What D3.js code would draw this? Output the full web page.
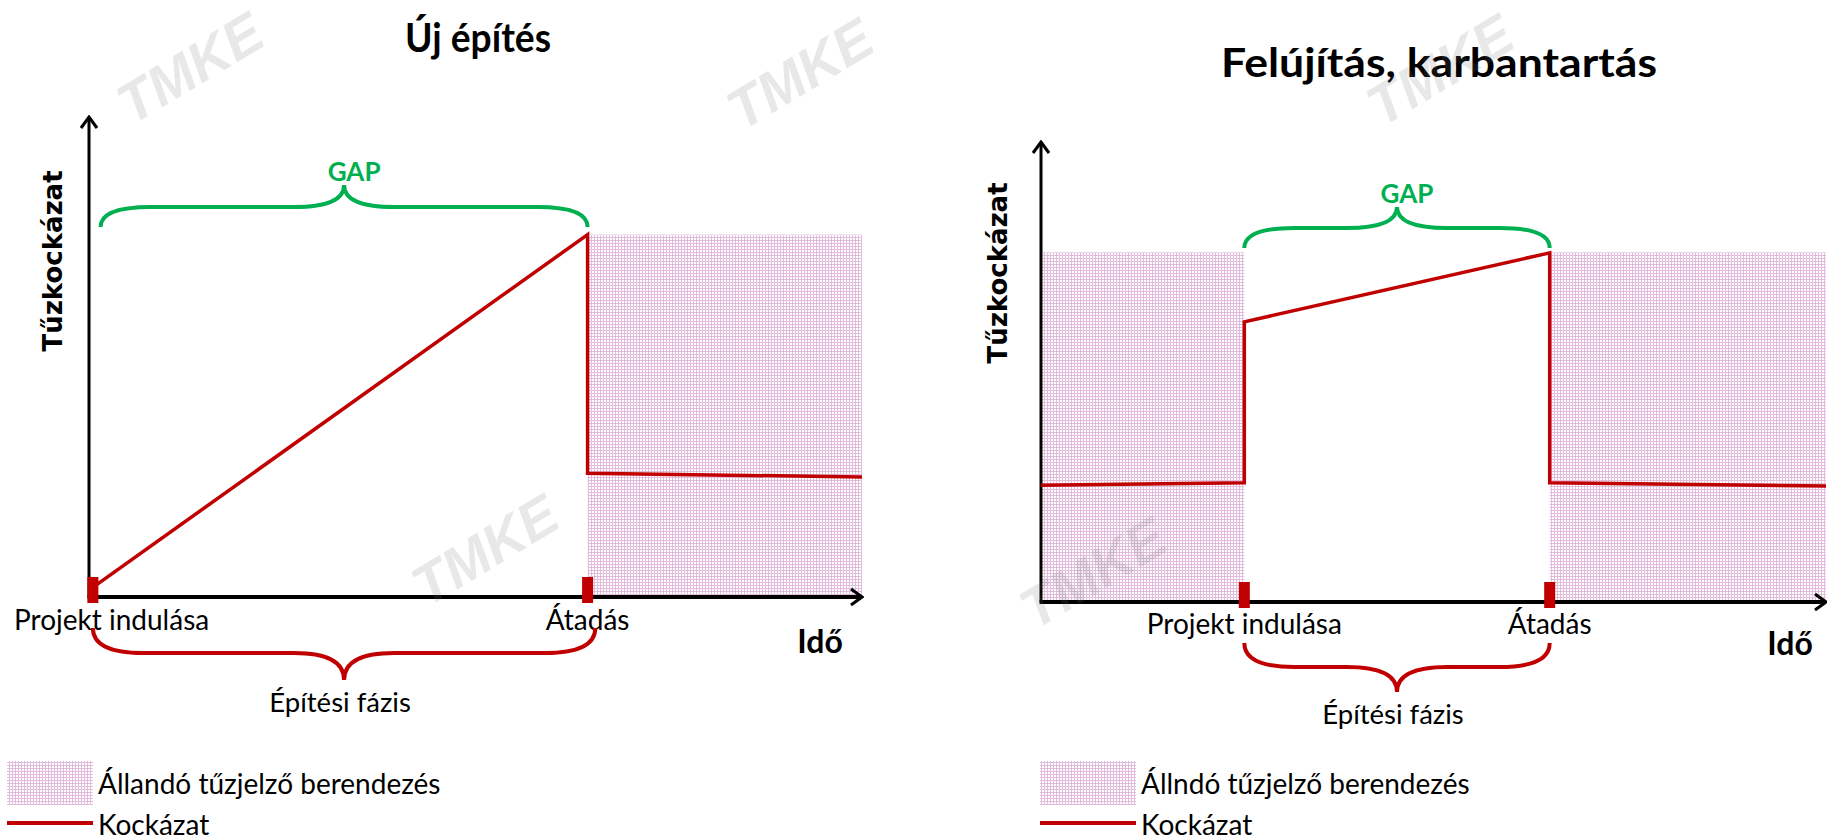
<!DOCTYPE html>
<html>
<head>
<meta charset="utf-8">
<script src="https://cdn.jsdelivr.net/npm/d3@7"></script>
<style>
  body { margin: 0; background: #fff; }
  svg { display: block; }
</style>
</head>
<body>
<div id="chart"></div>
<script>
// --- Új építés (new construction) ---
const newTitle = "Új építés";
const newTime = [0.5, 64.5, 64.5, 100];
const newRisk = [2, 75.5, 25.8, 25];
const newMilestones = [0.5, 64.5];
const newCover = [[64.5, 100]];
const newCoverTop = 75.5;

// --- Felújítás, karbantartás (renovation) ---
const renTitle = "Felújítás, karbantartás";
const renTime = [0, 25.9, 25.9, 64.8, 64.8, 100];
const renRisk = [25.4, 25.9, 60.9, 75.9, 25.9, 25.2];
const renMilestones = [25.9, 64.8];
const renCover = [[0, 25.9], [64.8, 100]];
const renCoverTop = 76;

const milestoneLabels = ["Projekt indulása", "Átadás"];
const yLabel = "Tűzkockázat";
const xLabel = "Idő";
const gapLabel = "GAP";
const phaseLabel = "Építési fázis";
const riskLegend = "Kockázat";

const RED = "#c00000", GREEN = "#00b050";
const FONT = "Lato, 'Open Sans', sans-serif";
const width = 1827, height = 840;

const svg = d3.select("#chart").append("svg")
  .attr("width", width)
  .attr("height", height)
  .style("font-family", FONT);

const defs = svg.append("defs");
const pat = defs.append("pattern")
  .attr("id", "dots")
  .attr("width", 3).attr("height", 3)
  .attr("patternUnits", "userSpaceOnUse");
pat.append("rect").attr("width", 3).attr("height", 3).attr("fill", "#e2bcdc");
pat.append("rect").attr("x", 1).attr("y", 1).attr("width", 2).attr("height", 2).attr("fill", "#fff");

defs.append("marker")
  .attr("id", "arrow")
  .attr("markerUnits", "userSpaceOnUse")
  .attr("viewBox", "-14 -10 16 20")
  .attr("refX", 0).attr("refY", 0)
  .attr("markerWidth", 16).attr("markerHeight", 20)
  .attr("orient", "auto")
  .append("path")
  .attr("d", "M-11,-8 L0,0 L-11,8")
  .attr("fill", "none")
  .attr("stroke", "#000")
  .attr("stroke-width", 3);

function bracePath(x0, x1, yEnd, yFlat, yTip) {
  const mid = (x0 + x1) / 2;
  const r = Math.min(50, (x1 - x0) / 6);
  return `M${x0},${yEnd} Q${x0},${yFlat} ${x0 + r},${yFlat} L${mid - r},${yFlat} ` +
    `Q${mid},${yFlat} ${mid},${yTip} Q${mid},${yFlat} ${mid + r},${yFlat} ` +
    `L${x1 - r},${yFlat} Q${x1},${yFlat} ${x1},${yEnd}`;
}

function drawPanel(cfg) {
  const x = d3.scaleLinear().domain([0, 100]).range(cfg.xRange);
  const y = d3.scaleLinear().domain([0, 100]).range(cfg.yRange);
  const g = svg.append("g");
  const axisY = cfg.yRange[0];

  // coverage areas (permanent fire detection)
  g.selectAll("rect.cover").data(cfg.cover).join("rect")
    .attr("class", "cover")
    .attr("x", d => x(d[0]))
    .attr("y", y(cfg.coverTop))
    .attr("width", d => x(d[1]) - x(d[0]))
    .attr("height", axisY - y(cfg.coverTop))
    .attr("fill", "url(#dots)");

  // axes
  g.append("line")
    .attr("x1", cfg.xRange[0]).attr("y1", axisY)
    .attr("x2", cfg.xRange[0]).attr("y2", cfg.yRange[1])
    .attr("stroke", "#000").attr("stroke-width", 3)
    .attr("marker-end", "url(#arrow)");
  g.append("line")
    .attr("x1", cfg.xRange[0] - 1.5).attr("y1", axisY)
    .attr("x2", cfg.xRange[1]).attr("y2", axisY)
    .attr("stroke", "#000").attr("stroke-width", 4)
    .attr("marker-end", "url(#arrow)");

  // risk line
  const line = d3.line().x(d => x(d[0])).y(d => y(d[1]));
  g.append("path")
    .datum(d3.zip(cfg.time, cfg.risk))
    .attr("d", line)
    .attr("fill", "none")
    .attr("stroke", RED)
    .attr("stroke-width", 3.5)
    .attr("stroke-linejoin", "miter");

  // milestones
  g.selectAll("rect.ms").data(cfg.milestones).join("rect")
    .attr("class", "ms")
    .attr("x", d => x(d) - 5.5)
    .attr("y", axisY - 20)
    .attr("width", 11)
    .attr("height", 26)
    .attr("fill", RED);

  g.selectAll("text.ms").data(cfg.milestones).join("text")
    .attr("class", "ms")
    .attr("x", (d, i) => i === 0 && cfg.firstLabelX ? cfg.firstLabelX : x(d))
    .attr("y", cfg.msBaseline)
    .attr("text-anchor", (d, i) => i === 0 && cfg.firstLabelX ? "start" : "middle")
    .attr("font-size", 28)
    .text((d, i) => milestoneLabels[i]);

  // GAP brace
  const ms0 = x(cfg.gapFrom), ms1 = x(cfg.milestones[1]);
  g.append("path")
    .attr("d", bracePath(ms0, ms1, ...cfg.gapY))
    .attr("fill", "none").attr("stroke", GREEN).attr("stroke-width", 4);
  g.append("text")
    .attr("x", (ms0 + ms1) / 2 + 10)
    .attr("y", cfg.gapY[2] - 4)
    .attr("text-anchor", "middle")
    .attr("font-size", 26).attr("font-weight", "bold")
    .attr("fill", GREEN)
    .text(gapLabel);

  // construction phase brace
  const b0 = x(cfg.milestones[0]), b1 = x(cfg.phaseTo);
  g.append("path")
    .attr("d", bracePath(b0, b1, ...cfg.phaseY))
    .attr("fill", "none").attr("stroke", RED).attr("stroke-width", 4);
  g.append("text")
    .attr("x", (b0 + b1) / 2 - 4)
    .attr("y", cfg.phaseY[2] + 32)
    .attr("text-anchor", "middle")
    .attr("font-size", 27.5)
    .text(phaseLabel);

  // titles and axis labels
  g.append("text")
    .attr("x", cfg.title[1]).attr("y", cfg.title[2])
    .attr("text-anchor", "middle")
    .attr("font-size", 41).attr("font-weight", "bold")
    .attr("textLength", cfg.title[3])
    .attr("lengthAdjust", "spacingAndGlyphs")
    .text(cfg.title[0]);
  g.append("text")
    .attr("transform", `translate(${cfg.yLab[0]},${cfg.yLab[1]}) rotate(-90)`)
    .attr("text-anchor", "middle")
    .style("font-family", "'DejaVu Sans', Verdana, sans-serif")
    .attr("font-size", 26).attr("font-weight", "bold")
    .text(yLabel);
  g.append("text")
    .attr("x", cfg.xLab[0]).attr("y", cfg.xLab[1])
    .attr("text-anchor", "middle")
    .attr("font-size", 32).attr("font-weight", "bold")
    .text(xLabel);

  // legend
  const lx = cfg.legend[0], ly = cfg.legend[1], sw = cfg.legend[2];
  g.append("rect")
    .attr("x", lx).attr("y", ly).attr("width", sw).attr("height", 44)
    .attr("fill", "url(#dots)");
  g.append("text")
    .attr("x", lx + sw + 5).attr("y", ly + 33)
    .attr("font-size", 28)
    .text(cfg.legendText);
  g.append("line")
    .attr("x1", lx).attr("x2", lx + sw)
    .attr("y1", ly + 62).attr("y2", ly + 62)
    .attr("stroke", RED).attr("stroke-width", 4);
  g.append("text")
    .attr("x", lx + sw + 5).attr("y", ly + 74)
    .attr("font-size", 28)
    .text(riskLegend);
}

drawPanel({
  xRange: [89, 862], yRange: [597, 117],
  time: newTime, risk: newRisk, milestones: newMilestones,
  cover: newCover, coverTop: newCoverTop,
  firstLabelX: 14, msBaseline: 630,
  gapFrom: 1.5, gapY: [227, 207, 185],
  phaseTo: 65.5, phaseY: [628, 653, 680],
  title: [newTitle, 478, 52, 146], yLab: [62, 261], xLab: [820, 653],
  legend: [7, 761, 86], legendText: "Állandó tűzjelző berendezés"
});

drawPanel({
  xRange: [1041, 1826], yRange: [602, 142],
  time: renTime, risk: renRisk, milestones: renMilestones,
  cover: renCover, coverTop: renCoverTop,
  firstLabelX: null, msBaseline: 634,
  gapFrom: 25.9, gapY: [248, 228, 207],
  phaseTo: 64.8, phaseY: [643, 667, 692],
  title: [renTitle, 1439, 77, 436], yLab: [1007, 273], xLab: [1790, 655],
  legend: [1040, 761, 96], legendText: "Állndó tűzjelző berendezés"
});

// TMKE watermarks
const marks = [[190, 68], [800, 74], [485, 550], [1440, 70], [1093, 573]];
svg.selectAll("text.wm").data(marks).join("text")
  .attr("class", "wm")
  .attr("transform", d => `translate(${d[0]},${d[1]}) rotate(-31)`)
  .attr("text-anchor", "middle")
  .attr("dominant-baseline", "central")
  .style("font-family", "'Liberation Sans', Arial, sans-serif")
  .attr("font-size", 56).attr("font-weight", "bold").attr("font-style", "italic")
  .attr("fill", "rgba(110,110,110,0.16)")
  .text("TMKE");
</script>
</body>
</html>
